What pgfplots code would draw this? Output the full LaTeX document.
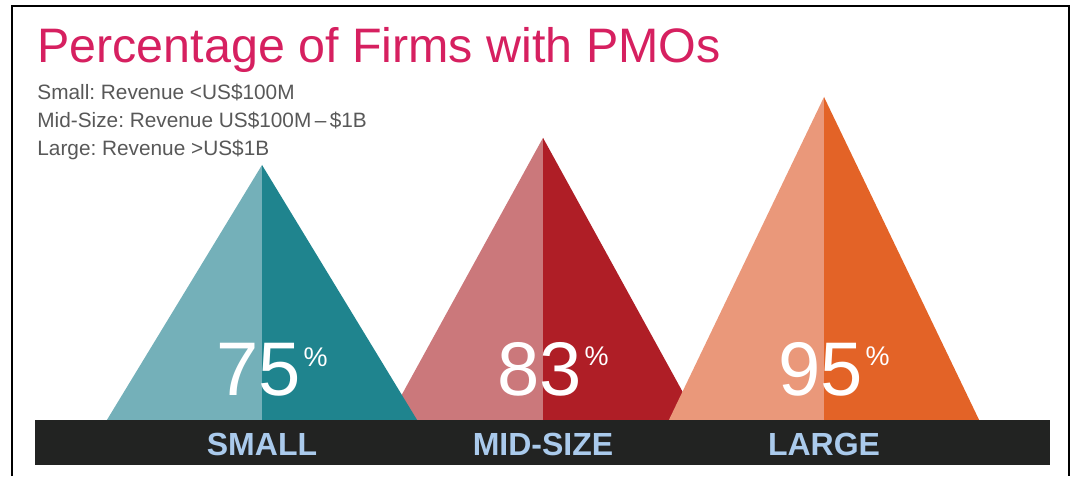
\documentclass[border=0pt]{standalone}
\usepackage{fontspec}
\setmainfont{Liberation Sans}
\usepackage{xcolor}
\usepackage{pgfplots}
\pgfplotsset{compat=1.18}
\frenchspacing

\definecolor{TitlePink}{RGB}{214,32,96}
\definecolor{SubGray}{RGB}{88,88,88}
\definecolor{LabelBlue}{RGB}{170,202,236}
\definecolor{BarBlack}{RGB}{34,35,34}
\definecolor{SmallL}{RGB}{116,176,185}
\definecolor{SmallR}{RGB}{31,132,142}
\definecolor{MidL}{RGB}{203,120,123}
\definecolor{MidR}{RGB}{175,30,38}
\definecolor{LargeL}{RGB}{234,152,122}
\definecolor{LargeR}{RGB}{227,99,39}

% half base width of each triangle (category units)
\def\hw{0.552}

\tikzset{
  pct/.style={anchor=base, inner sep=0pt, text=white, font=\fontsize{38}{38}\selectfont},
  pctsign/.style={anchor=north west, inner sep=0pt, text=white, font=\fontsize{13.5}{13.5}\selectfont},
  catlab/.style={anchor=base, inner sep=0pt, text=LabelBlue, font=\fontsize{16}{16}\selectfont\bfseries},
  note/.style={anchor=base west, inner sep=0pt, text=SubGray, font=\fontsize{10.4}{10.4}\selectfont},
}

\begin{document}
\begin{tikzpicture}
\begin{axis}[
  scale only axis,
  width=538pt, height=238pt,
  xmin=-0.9324, xmax=2.8968,
  ymin=-16.47, ymax=123.53,
  hide axis,
  clip=false,
]
  \path (rel axis cs:0,0) rectangle (rel axis cs:1,1);

  % Mid-size (drawn first, the others overlap it)
  \addplot[fill=MidL, draw=none] coordinates {(1-\hw,0) (1,83) (1,0)} \closedcycle;
  \addplot[fill=MidR, draw=none] coordinates {(1,0) (1,83) (1+\hw,0)} \closedcycle;
  % Small
  \addplot[fill=SmallL, draw=none] coordinates {(-\hw,0) (0,75) (0,0)} \closedcycle;
  \addplot[fill=SmallR, draw=none] coordinates {(0,0) (0,75) (\hw,0)} \closedcycle;
  % Large
  \addplot[fill=LargeL, draw=none] coordinates {(2-\hw,0) (2,95) (2,0)} \closedcycle;
  \addplot[fill=LargeR, draw=none] coordinates {(2,0) (2,95) (2+\hw,0)} \closedcycle;

  % black base bar
  \fill[BarBlack] (axis cs:-0.808,0) rectangle (axis cs:2.804,-13.24);

  % outer frame (open at the bottom)
  \draw[line width=1pt, black] (rel axis cs:0.0112,0) -- (rel axis cs:0.0112,0.9874)
    -- (rel axis cs:0.9935,0.9874) -- (rel axis cs:0.9935,0);

  % title and notes
  \node[anchor=base west, inner sep=0pt, text=TitlePink, font=\fontsize{24.2}{24.2}\selectfont]
    at (axis cs:-0.8007,105.0) {Percentage of Firms with PMOs};
  \node[note] at (axis cs:-0.8007,94.4) {Small: Revenue <US\$100M};
  \node[note] at (axis cs:-0.8007,85.9) {Mid-Size: Revenue US\$100M\,–\,\$1B};
  \node[note] at (axis cs:-0.8007,77.9) {Large: Revenue >US\$1B};

  % percentages
  \node[pct] (n0) at (axis cs:-0.012,7.35) {75};
  \node[pct] (n1) at (axis cs:0.988,7.35) {83};
  \node[pct] (n2) at (axis cs:1.988,7.35) {95};
  \node[pctsign] at ([xshift=1pt, yshift=-2.5pt]n0.north east) {\%};
  \node[pctsign] at ([xshift=1pt, yshift=-2.5pt]n1.north east) {\%};
  \node[pctsign] at ([xshift=1pt, yshift=-2.5pt]n2.north east) {\%};

  % category labels
  \node[catlab] at (axis cs:0,-10.3) {SMALL};
  \node[catlab] at (axis cs:1,-10.3) {MID-SIZE};
  \node[catlab] at (axis cs:2,-10.3) {LARGE};
\end{axis}
\end{tikzpicture}
\end{document}
